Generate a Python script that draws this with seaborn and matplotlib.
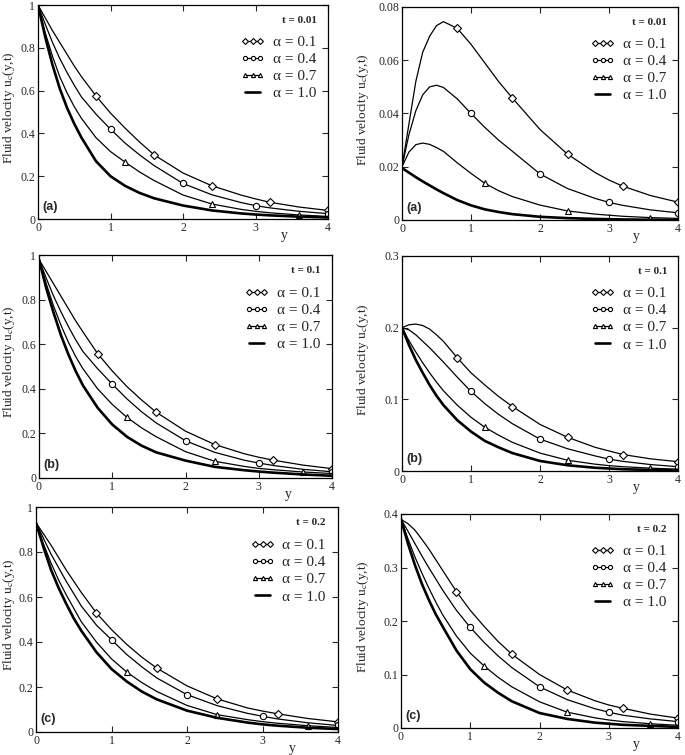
import numpy as np
import matplotlib
matplotlib.use("Agg")
import matplotlib.pyplot as plt
from matplotlib.lines import Line2D
from matplotlib.ticker import FuncFormatter
import seaborn as sns

# distance from the plate (shared grid)
y_vals = [0, 0.1, 0.2, 0.3, 0.4, 0.5, 0.6, 0.8, 1.0, 1.2, 1.4, 1.6, 2.0, 2.4, 2.8, 3.0, 3.2, 3.6, 4.0]

alphas = [0.1, 0.4, 0.7, 1.0]
alpha_labels = ["\u03b1 = 0.1", "\u03b1 = 0.4", "\u03b1 = 0.7", "\u03b1 = 1.0"]
times = ["t = 0.01", "t = 0.1", "t = 0.2"]
panel_tags = ["(a)", "(b)", "(c)"]

# left column, t = 0.01
aL_01 = [1.0, 0.94, 0.88, 0.825, 0.77, 0.715, 0.665, 0.575, 0.495, 0.425, 0.36, 0.30, 0.215, 0.155, 0.112, 0.094, 0.078, 0.056, 0.04]
aL_04 = [1.0, 0.91, 0.825, 0.75, 0.685, 0.625, 0.57, 0.49, 0.42, 0.355, 0.30, 0.25, 0.166, 0.113, 0.077, 0.0625, 0.052, 0.036, 0.025]
aL_07 = [1.0, 0.87, 0.76, 0.665, 0.59, 0.525, 0.47, 0.38, 0.315, 0.266, 0.22, 0.18, 0.112, 0.07, 0.045, 0.036, 0.029, 0.019, 0.012]
aL_10 = [1.0, 0.85, 0.72, 0.61, 0.52, 0.445, 0.38, 0.27, 0.20, 0.155, 0.122, 0.097, 0.063, 0.04, 0.026, 0.021, 0.017, 0.011, 0.007]
# right column, t = 0.01
aR_01 = [0.02, 0.036, 0.052, 0.063, 0.069, 0.073, 0.0745, 0.072, 0.066, 0.059, 0.052, 0.0458, 0.034, 0.0247, 0.0178, 0.015, 0.0127, 0.0092, 0.0067]
aR_04 = [0.02, 0.032, 0.041, 0.047, 0.050, 0.0506, 0.0498, 0.0455, 0.040, 0.0348, 0.030, 0.0258, 0.0173, 0.0118, 0.0081, 0.0066, 0.0055, 0.0038, 0.0027]
aR_07 = [0.02, 0.0255, 0.0283, 0.0289, 0.0284, 0.0272, 0.0258, 0.0215, 0.0175, 0.0138, 0.011, 0.0088, 0.0056, 0.0034, 0.0022, 0.0018, 0.0014, 0.0009, 0.0006]
aR_10 = [0.0195, 0.0178, 0.0161, 0.0145, 0.013, 0.0115, 0.0101, 0.0075, 0.0055, 0.004, 0.003, 0.0022, 0.0012, 0.0007, 0.0004, 0.0003, 0.0002, 0.0001, 0.00005]

# left column, t = 0.1
bL_01 = [0.98, 0.925, 0.87, 0.815, 0.76, 0.705, 0.655, 0.558, 0.48, 0.41, 0.35, 0.295, 0.21, 0.15, 0.109, 0.093, 0.08, 0.058, 0.042]
bL_04 = [0.98, 0.895, 0.815, 0.745, 0.68, 0.62, 0.567, 0.49, 0.421, 0.355, 0.297, 0.247, 0.167, 0.115, 0.08, 0.067, 0.056, 0.039, 0.028]
bL_07 = [0.98, 0.87, 0.77, 0.685, 0.61, 0.545, 0.49, 0.40, 0.33, 0.272, 0.225, 0.185, 0.118, 0.075, 0.052, 0.043, 0.037, 0.027, 0.02]
bL_10 = [0.98, 0.85, 0.74, 0.64, 0.555, 0.48, 0.415, 0.315, 0.24, 0.185, 0.145, 0.115, 0.078, 0.05, 0.035, 0.029, 0.024, 0.016, 0.01]
# right column, t = 0.1
bR_01 = [0.2, 0.204, 0.205, 0.203, 0.198, 0.19, 0.181, 0.158, 0.137, 0.12, 0.104, 0.09, 0.065, 0.047, 0.033, 0.028, 0.023, 0.017, 0.013]
bR_04 = [0.2, 0.197, 0.19, 0.181, 0.172, 0.162, 0.152, 0.131, 0.111, 0.094, 0.079, 0.066, 0.0445, 0.031, 0.021, 0.0165, 0.0135, 0.009, 0.006]
bR_07 = [0.2, 0.182, 0.166, 0.151, 0.137, 0.124, 0.112, 0.092, 0.075, 0.061, 0.05, 0.04, 0.025, 0.015, 0.0095, 0.0075, 0.006, 0.004, 0.0025]
bR_10 = [0.2, 0.176, 0.155, 0.137, 0.12, 0.105, 0.092, 0.071, 0.055, 0.042, 0.033, 0.025, 0.014, 0.008, 0.0045, 0.0035, 0.0025, 0.0015, 0.001]

# left column, t = 0.2
cL_01 = [0.93, 0.88, 0.83, 0.775, 0.72, 0.67, 0.62, 0.529, 0.455, 0.39, 0.333, 0.284, 0.205, 0.147, 0.107, 0.093, 0.081, 0.06, 0.045]
cL_04 = [0.93, 0.86, 0.79, 0.73, 0.67, 0.615, 0.56, 0.475, 0.41, 0.345, 0.29, 0.24, 0.166, 0.117, 0.083, 0.07, 0.058, 0.041, 0.029]
cL_07 = [0.93, 0.835, 0.75, 0.675, 0.61, 0.55, 0.49, 0.40, 0.325, 0.267, 0.22, 0.18, 0.118, 0.077, 0.055, 0.046, 0.039, 0.028, 0.02]
cL_10 = [0.93, 0.82, 0.72, 0.64, 0.57, 0.505, 0.45, 0.355, 0.28, 0.225, 0.18, 0.145, 0.095, 0.063, 0.042, 0.034, 0.028, 0.019, 0.013]
# right column, t = 0.2
cR_01 = [0.39, 0.382, 0.37, 0.353, 0.335, 0.315, 0.295, 0.255, 0.22, 0.19, 0.162, 0.138, 0.1, 0.071, 0.051, 0.043, 0.037, 0.026, 0.0185]
cR_04 = [0.39, 0.368, 0.345, 0.322, 0.3, 0.279, 0.258, 0.22, 0.188, 0.16, 0.135, 0.113, 0.077, 0.053, 0.036, 0.0296, 0.024, 0.017, 0.012]
cR_07 = [0.39, 0.354, 0.32, 0.29, 0.262, 0.236, 0.212, 0.172, 0.14, 0.116, 0.095, 0.077, 0.049, 0.0296, 0.019, 0.015, 0.012, 0.008, 0.005]
cR_10 = [0.39, 0.345, 0.305, 0.27, 0.24, 0.213, 0.19, 0.145, 0.11, 0.085, 0.066, 0.05, 0.028, 0.017, 0.01, 0.008, 0.006, 0.004, 0.002]

# where the symbols sit on each curve
marker_at = {0.1: [0.8, 1.6, 2.4, 3.2, 4.0], 0.4: [1.0, 2.0, 3.0, 4.0], 0.7: [1.2, 2.4, 3.6], 1.0: []}
marker_shape = {0.1: "D", 0.4: "o", 0.7: "^", 1.0: None}

sns.set_style("ticks")
plt.rcParams["font.family"] = ["Liberation Serif", "DejaVu Serif"]
plt.rcParams["mathtext.fontset"] = "stix"

fig = plt.figure(figsize=(6.85, 7.55), dpi=100)
W, H = 685, 755
# pixel boxes: left, top, right, bottom
boxes = [
    [(38, 5, 328, 219), (402, 7, 678, 220)],
    [(39, 255, 332, 478), (402, 256, 678, 471)],
    [(36, 507, 338, 732), (401, 514, 678, 728)],
]
label_x = [17, 371]  # right edge of the rotated y label, in pixels
panels = [
    [[aL_01, aL_04, aL_07, aL_10], [aR_01, aR_04, aR_07, aR_10]],
    [[bL_01, bL_04, bL_07, bL_10], [bR_01, bR_04, bR_07, bR_10]],
    [[cL_01, cL_04, cL_07, cL_10], [cR_01, cR_04, cR_07, cR_10]],
]
ylims = [[(0, 1), (0, 0.08)], [(0, 1), (0, 0.3)], [(0, 1), (0, 0.4)]]
yticks = [[np.arange(0, 1.01, 0.2), np.arange(0, 0.081, 0.02)],
          [np.arange(0, 1.01, 0.2), np.arange(0, 0.31, 0.1)],
          [np.arange(0, 1.01, 0.2), np.arange(0, 0.41, 0.1)]]

fmt = FuncFormatter(lambda v, p: ("%g" % round(v, 4)))

y_arr = np.array(y_vals)
for r in range(3):
    for c in range(2):
        l, t, rr, b = boxes[r][c]
        ax = fig.add_axes([l / W, 1 - b / H, (rr - l) / W, (b - t) / H])
        for a, vals in zip(alphas, panels[r][c]):
            vals = np.array(vals)
            lw = 1.9 if a == 1.0 else 0.9
            sns.lineplot(x=y_arr, y=vals, ax=ax, color="black", lw=lw, legend=False)
            if marker_shape[a]:
                mask = np.isin(np.round(y_arr, 2), marker_at[a])
                ax.plot(y_arr[mask], vals[mask], ls="none", marker=marker_shape[a],
                        ms=4.5 if a != 0.1 else 4, mfc="white", mec="black", mew=0.8)
        ax.set_xlim(0, 4)
        ax.set_ylim(*ylims[r][c])
        ax.set_xticks([0, 1, 2, 3, 4])
        ax.set_yticks(yticks[r][c])
        ax.xaxis.set_major_formatter(fmt)
        ax.yaxis.set_major_formatter(fmt)
        ax.tick_params(direction="in", top=True, right=True, labelsize=8.5,
                       length=4, width=0.8, pad=2)
        for s in ax.spines.values():
            s.set_linewidth(0.9)
            s.set_color("black")
        ax.set_ylabel("Fluid velocity u$_{\\mathrm{c}}$(y,t)", fontsize=9.5)
        ax.yaxis.set_label_coords((label_x[c] - l) / (rr - l), 0.52)
        ax.set_xlabel("y", fontsize=10)
        ax.xaxis.set_label_coords(0.85, -0.045)
        ax.text(0.015, 0.03, panel_tags[r], transform=ax.transAxes, fontsize=9,
                fontweight="bold", family="Liberation Sans", va="bottom", ha="left")
        ax.text(0.96, 0.95, times[r], transform=ax.transAxes, fontsize=8,
                fontweight="bold", ha="right", va="top")
        handles = []
        for a in alphas:
            if marker_shape[a]:
                handles.append(Line2D([], [], color="black", lw=0.9, marker=marker_shape[a],
                                      ms=3, mfc="white", mec="black", mew=0.8))
            else:
                handles.append(Line2D([], [], color="black", lw=1.9))
        ax.legend(handles, alpha_labels, loc="upper right", bbox_to_anchor=(0.99, 0.9),
                  frameon=False, fontsize=11, numpoints=3, handlelength=1.6,
                  handletextpad=0.5, labelspacing=0.22, borderaxespad=0.2)

fig.savefig("out.png", dpi=100)
